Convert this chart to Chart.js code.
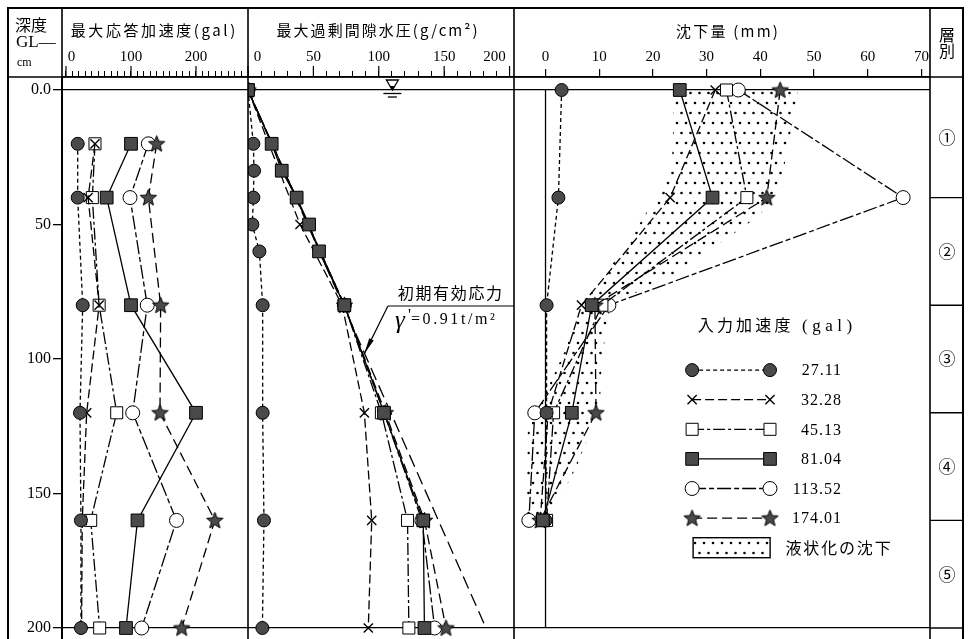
<!DOCTYPE html>
<html lang="ja"><head><meta charset="utf-8"><title>液状化実験</title>
<script src="https://cdn.jsdelivr.net/npm/chart.js@4.4.1/dist/chart.umd.min.js"></script>
<style>html,body{margin:0;padding:0;background:#fff;overflow:hidden}canvas{display:block}</style>
</head><body>
<canvas id="c" width="971" height="639"></canvas>
<script>
// ================= DATA =================
const seriesNames = ['27.11','32.28','45.13','81.04','113.52','174.01'];
const legendTitle = ['入力加速度','(gal)'];
const liqLabel = '液状化の沈下';
const panelTitles = ['最大応答加速度(gal)','最大過剰間隙水圧(g/cm²)','沈下量 (mm)'];
const depthTicks = [0,50,100,150,200];
const accTickLabels = [0,100,200];
const pwpTickLabels = [0,50,100,150,200];
const setTickLabels = [0,10,20,30,40,50,60,70];
const layerLabels = ['①','②','③','④','⑤'];
const layerBounds = [40,80,120,160];

// panel 1: max response acceleration (gal) vs depth (cm)
const accDepth = [20,40,80,120,160,200];
const acc27  = [18,18,25.7,21.5,23,23];
const acc32  = [44.6,34,51,31.8,25,24];
const acc45  = [44.6,40.5,51,78,38,51.8];
const acc81  = [100,62.6,100,200,110,92.3];
const acc113 = [126.7,98.5,125,102.6,170,116.4];
const acc174 = [139.5,126.7,145.6,144.6,229,178];

// panel 2: max excess pore water pressure (g/cm2) vs depth
const pwpDepthFull = [0,20,30,40,50,60,80,120,160,200];
const pwp27  = [0,4.1,4.6,4.1,3.3,8.7,11.2,11.2,12.2,11];
const pwp81  = [0,18.1,25.8,37.2,46.7,54.3,73.7,104,134,134.9];
const pwpDepthCross = [0,50,80,120,160,200];
const pwp32  = [0,39.8,72,89,94.6,92];
const pwpDepthShort = [0,80,120,160,200];
const pwp45  = [0,73.7,102,122,123];
const pwp113 = [0,73.7,104,133,142.7];
const pwp174 = [0,73.7,105,135,151.4];
const stressDepth = [0,200];
const initialStress = [0,182];   // γ'=0.91 t/m3

// panel 3: settlement (mm) vs depth
const setDepth = [0,40,80,120,160];
const set27  = [3.0,2.4,0.2,0.2,0.0];
const set32  = [31.6,23.2,6.7,0.5,-1.0];
const set45  = [33.7,37.5,10.5,1.5,0.2];
const set81  = [25.0,31.1,8.6,4.9,-0.5];
const set113 = [35.9,66.6,11.8,-2.0,-3.1];
const set174 = [43.7,41.2,9.2,9.4,-1.0];

// liquefaction settlement envelope (dotted area)
const liqLeftDepth  = [0,30,58,80,97,127,156,161];
const liqLeftVal    = [24,23.5,15,6.7,3.6,-3.3,-3.5,-3];
const liqRightDepth = [0,12,30,42,50,68,80,100,118,140,160];
const liqRightVal   = [47,46,44.3,42.4,37.5,24.4,12,10.5,10.1,5.8,0.5];

// ================= STYLE HELPERS =================
const SERIF = "'Liberation Serif','DejaVu Serif',serif";
const CJK = "'Noto Sans CJK JP','Noto Sans',sans-serif";
const MARK = '#4a4a4a';

function makeStar(){
  const c=document.createElement('canvas'); c.width=19; c.height=19;
  const g=c.getContext('2d'); g.beginPath();
  for(let i=0;i<10;i++){const r=i%2?3.7:8.6; const a=-Math.PI/2+i*Math.PI/5; g.lineTo(9.5+r*Math.cos(a),10+r*Math.sin(a));}
  g.closePath(); g.fillStyle=MARK; g.fill(); g.strokeStyle='#000'; g.lineWidth=1; g.stroke();
  return c;
}
const starImg = makeStar();

const styles = [
  {ps:'circle',  r:6.5, fill:MARK,   dash:[4,3],        order:1},
  {ps:'crossRot',r:6.5, fill:'#000', dash:[9,4],        order:2, pbw:1.4},
  {ps:'rect',    r:8.5, fill:'#fff', dash:[12,3,3,3],   order:3},
  {ps:'rect',    r:9,   fill:MARK,   dash:[],           order:0},
  {ps:'circle',  r:7,   fill:'#fff', dash:[14,3,5,3],   order:4},
  {ps:starImg,   r:9,   fill:MARK,   dash:[10,5],       order:2}
];

function ds(si, vals, depths, axis){
  const st = styles[si];
  return {
    label: seriesNames[si]+'-'+axis,
    data: vals.map((v,i)=>({x:v, y:depths[i]})),
    xAxisID: axis, yAxisID:'y', showLine:true,
    borderColor:'#000', borderWidth:1.3, borderDash:st.dash,
    pointStyle:st.ps, pointRadius:st.r, pointHoverRadius:st.r,
    pointBackgroundColor:st.fill, pointBorderColor:'#000', pointBorderWidth:st.pbw||1,
    order:st.order, fill:false, tension:0
  };
}

const datasets = [
  ds(0,acc27,accDepth,'xA'), ds(1,acc32,accDepth,'xA'), ds(2,acc45,accDepth,'xA'),
  ds(3,acc81,accDepth,'xA'), ds(4,acc113,accDepth,'xA'), ds(5,acc174,accDepth,'xA'),
  ds(0,pwp27,pwpDepthFull,'xP'), ds(1,pwp32,pwpDepthCross,'xP'), ds(2,pwp45,pwpDepthShort,'xP'),
  ds(3,pwp81,pwpDepthFull,'xP'), ds(4,pwp113,pwpDepthShort,'xP'), ds(5,pwp174,pwpDepthShort,'xP'),
  ds(0,set27,setDepth,'xS'), ds(1,set32,setDepth,'xS'), ds(2,set45,setDepth,'xS'),
  ds(3,set81,setDepth,'xS'), ds(4,set113,setDepth,'xS'), ds(5,set174,setDepth,'xS'),
  {label:'initial effective stress', data: initialStress.map((v,i)=>({x:v,y:stressDepth[i]})),
   xAxisID:'xP', yAxisID:'y', showLine:true, borderColor:'#000', borderWidth:1.3, borderDash:[13,6],
   pointRadius:0, order:6}
];

function line(ctx,x1,y1,x2,y2){ctx.beginPath();ctx.moveTo(x1,y1);ctx.lineTo(x2,y2);ctx.stroke();}

function dotPattern(ctx){
  const c=document.createElement('canvas'); c.width=9; c.height=20;
  const g=c.getContext('2d'); g.fillStyle='#000';
  g.beginPath(); g.arc(2,3,1.3,0,Math.PI*2); g.fill();
  g.beginPath(); g.arc(6.5,13,1.3,0,Math.PI*2); g.fill();
  return ctx.createPattern(c,'repeat');
}

function drawMarker(ctx, st, x, y){
  ctx.save(); ctx.setLineDash([]); ctx.strokeStyle='#000'; ctx.lineWidth=st.pbw||1; ctx.fillStyle=st.fill;
  if(st.ps==='circle'){ctx.beginPath();ctx.arc(x,y,st.r,0,Math.PI*2);ctx.fill();ctx.stroke();}
  else if(st.ps==='rect'){const s=st.r*Math.SQRT1_2;ctx.beginPath();ctx.rect(x-s,y-s,2*s,2*s);ctx.fill();ctx.stroke();}
  else if(st.ps==='crossRot'){const s=st.r*Math.SQRT1_2;line(ctx,x-s,y-s,x+s,y+s);line(ctx,x-s,y+s,x+s,y-s);}
  else {ctx.drawImage(st.ps,x-st.ps.width/2,y-st.ps.height/2);}
  ctx.restore();
}

function spacedText(ctx, text, cx, cy, targetW, font){
  ctx.font = font; ctx.letterSpacing='0px';
  const w = ctx.measureText(text).width;
  const n = [...text].length;
  const sp = Math.max(0,(targetW-w)/n);
  ctx.letterSpacing = sp.toFixed(2)+'px';
  ctx.textAlign='left'; ctx.textBaseline='middle';
  ctx.fillText(text, cx - (w+sp*(n-1))/2, cy);
  ctx.letterSpacing='0px';
}

const deco = {
  id:'deco',
  beforeDatasetsDraw(chart){
    const {ctx, chartArea:ca} = chart; const S=chart.scales;
    ctx.save();
    ctx.beginPath(); ctx.rect(ca.left,ca.top,ca.right-ca.left,ca.bottom-ca.top); ctx.clip();
    ctx.beginPath();
    liqLeftVal.forEach((v,i)=>{const px=S.xS.getPixelForValue(v), py=S.y.getPixelForValue(liqLeftDepth[i]); i?ctx.lineTo(px,py):ctx.moveTo(px,py);});
    for(let i=liqRightVal.length-1;i>=0;i--) ctx.lineTo(S.xS.getPixelForValue(liqRightVal[i]), S.y.getPixelForValue(liqRightDepth[i]));
    ctx.closePath(); ctx.fillStyle=dotPattern(ctx); ctx.fill();
    // zero line of settlement panel
    ctx.strokeStyle='#000'; ctx.lineWidth=1.3;
    line(ctx, S.xS.getPixelForValue(0), S.y.getPixelForValue(0), S.xS.getPixelForValue(0), S.y.getPixelForValue(200));
    ctx.restore();
  },
  afterDraw(chart){
    const {ctx, chartArea:ca} = chart; const S=chart.scales;
    const L=8, T=8, R=963, B=chart.height, H=ca.top;
    ctx.save(); ctx.strokeStyle='#000'; ctx.fillStyle='#000';
    // frame (open at the bottom, verticals run off the page)
    ctx.lineWidth=2; line(ctx,L-1,T,R+1,T);
    [L,R].forEach(x=>line(ctx,x,T,x,B));
    ctx.lineWidth=1.6; line(ctx,L,H,R,H);
    [ca.left, S.xA.right, S.xP.right, ca.right].forEach(x=>line(ctx,x,T,x,B));
    ctx.lineWidth=1.4;
    layerBounds.forEach(d=>{const yy=S.y.getPixelForValue(d); line(ctx,ca.right,yy,R,yy);});
    const y200=S.y.getPixelForValue(200); ctx.lineWidth=1.3; line(ctx,ca.right,y200,R,y200);
    // major tick extensions
    ctx.lineWidth=1.2;
    accTickLabels.forEach(v=>{const x=S.xA.getPixelForValue(v); line(ctx,x,H-11,x,H);});
    pwpTickLabels.forEach(v=>{const x=S.xP.getPixelForValue(v); line(ctx,x,H-11,x,H);});
    // header texts
    spacedText(ctx, panelTitles[0], 153, 30, 167, `15px ${CJK}`);
    spacedText(ctx, panelTitles[1], 377, 30, 203, `15px ${CJK}`);
    spacedText(ctx, panelTitles[2], 727, 31, 104, `15px ${CJK}`);
    ctx.textAlign='left'; ctx.textBaseline='middle';
    ctx.font=`16px ${CJK}`; ctx.fillText('深度',15,25);
    ctx.font=`17px ${SERIF}`; ctx.fillText('GL—',16,43);
    ctx.font=`12px ${SERIF}`; ctx.fillText('cm',17,63);
    ctx.textAlign='center';
    ctx.font=`16px ${CJK}`; ctx.fillText('層',947,35); ctx.fillText('別',947,51);
    const bnds=[S.y.getPixelForValue(S.y.min)].concat(layerBounds.map(d=>S.y.getPixelForValue(d)),[y200]);
    ctx.font=`17px ${CJK}`;
    layerLabels.forEach((t,i)=>ctx.fillText(t,947,(bnds[i]+bnds[i+1])/2));
    // water table symbol
    const wx=S.xP.getPixelForValue(110.4), wy=S.y.getPixelForValue(0);
    ctx.lineWidth=1.3;
    ctx.beginPath(); ctx.moveTo(wx-6,wy-10); ctx.lineTo(wx+6,wy-10); ctx.lineTo(wx,wy); ctx.closePath(); ctx.stroke();
    ctx.beginPath(); ctx.moveTo(wx-3,wy-4); ctx.lineTo(wx+3,wy-4); ctx.lineTo(wx,wy); ctx.closePath(); ctx.fill();
    line(ctx,wx-9,wy+3.5,wx+9,wy+3.5); line(ctx,wx-4.5,wy+7,wx+4.5,wy+7);
    // annotation: initial effective stress
    const ax=S.xP.getPixelForValue(107), ay=S.y.getPixelForValue(80.3);
    const tx=S.xP.getPixelForValue(89), ty=S.y.getPixelForValue(98);
    ctx.lineWidth=1.2; line(ctx,ax,ay,S.xP.right,ay); line(ctx,ax,ay,tx,ty);
    const ang=Math.atan2(ty-ay,tx-ax);
    ctx.beginPath(); ctx.moveTo(tx,ty);
    ctx.lineTo(tx-16*Math.cos(ang)+2.5*Math.sin(ang), ty-16*Math.sin(ang)-2.5*Math.cos(ang));
    ctx.lineTo(tx-16*Math.cos(ang)-2.5*Math.sin(ang), ty-16*Math.sin(ang)+2.5*Math.cos(ang));
    ctx.closePath(); ctx.fill();
    spacedText(ctx,'初期有効応力', ax+62, ay-13, 106, `16px ${CJK}`);
    ctx.textAlign='left'; ctx.textBaseline='middle';
    ctx.font=`italic 25px ${SERIF}`; ctx.fillText('γ',ax+7,ay+15);
    ctx.font=`17px ${SERIF}`; ctx.fillText("'",ax+20,ay+10);
    ctx.font=`16px ${SERIF}`; ctx.letterSpacing='2.6px'; ctx.fillText('=0.91t/m²',ax+23,ay+14); ctx.letterSpacing='0px';
    // legend
    const lx=S.xS.getPixelForValue(27.3), rx=S.xS.getPixelForValue(41.8), ly=S.y.getPixelForValue(87.4);
    spacedText(ctx, legendTitle[0], lx+52, ly, 96, `16px ${CJK}`);
    ctx.font=`17px ${SERIF}`; ctx.textAlign='left'; ctx.letterSpacing='4.5px';
    ctx.fillText(legendTitle[1], lx+110, ly+1); ctx.letterSpacing='0px';
    styles.forEach((st,i)=>{
      const yy=ly+45+i*29.6;
      ctx.save(); ctx.lineWidth=1.3; ctx.setLineDash(st.dash); line(ctx,lx,yy,rx,yy); ctx.restore();
      drawMarker(ctx,st,lx,yy); drawMarker(ctx,st,rx,yy);
      ctx.font=`16px ${SERIF}`; ctx.textAlign='right'; ctx.letterSpacing='1px';
      ctx.fillText(seriesNames[i], lx+150, yy+1); ctx.letterSpacing='0px';
    });
    const py=ly+45+6*29.6-10;
    ctx.fillStyle=dotPattern(ctx); ctx.fillRect(lx+1,py,77,20);
    ctx.lineWidth=1.4; ctx.strokeRect(lx+1,py,77,20);
    ctx.fillStyle='#000';
    spacedText(ctx, liqLabel, lx+146, py+10, 107, `16px ${CJK}`);
    ctx.restore();
  }
};

function minorTicks(lo,hi,step){const a=[];for(let v=lo;v<=hi+1e-9;v+=step)a.push({value:v});return a;}
const tickFont={family:"'Liberation Serif','DejaVu Serif',serif", size:15};
function noPad(s){s.paddingTop=0;s.paddingBottom=0;s.paddingLeft=0;s.paddingRight=0;}

// NOTE: top axes in one stack are laid out in reverse declaration order,
// so the settlement axis is declared first and the acceleration axis last.
new Chart(document.getElementById('c'), {
  type:'scatter',
  data:{datasets},
  plugins:[deco],
  options:{
    responsive:false, animation:false, devicePixelRatio:1,
    layout:{autoPadding:false, padding:{left:8,right:41,top:8,bottom:0}},
    plugins:{legend:{display:false}, tooltip:{enabled:false}},
    events:[],
    scales:{
      y:{type:'linear', position:'left', reverse:true, min:-4.833, max:204.09,
         afterFit(s){s.width=54; noPad(s);},
         afterBuildTicks(s){s.ticks=depthTicks.map(v=>({value:v}));},
         ticks:{callback:v=>v===0?'0.0':String(v), font:{family:"'Liberation Serif','DejaVu Serif',serif", size:16}, color:'#000', padding:2},
         grid:{color:c=>(c.tick&&(c.tick.value===0||c.tick.value===200))?'#000':'rgba(0,0,0,0)', tickColor:'#000', tickLength:9, lineWidth:1.3},
         border:{display:true,color:'#000',width:2}},
      xS:{type:'linear', position:'top', stack:'hdr', stackWeight:416, min:-5.87, max:71.6,
         afterFit(s){s.height=69; noPad(s);},
         afterBuildTicks(s){s.ticks=setTickLabels.map(v=>({value:v}));},
         ticks:{autoSkip:false, maxRotation:0, font:tickFont, color:'#000', padding:3},
         grid:{drawOnChartArea:false, tickLength:8, tickColor:'#000', lineWidth:1.2},
         border:{color:'#000',width:1.6}},
      xP:{type:'linear', position:'top', stack:'hdr', stackWeight:266, min:0, max:203.4,
         afterFit(s){s.height=69; noPad(s);},
         afterBuildTicks(s){s.ticks=minorTicks(0,200,10);},
         ticks:{autoSkip:false, maxRotation:0,
           callback:v=>!pwpTickLabels.includes(v)?'':(v===0?'\u2002\u2002 0':(v===200?'200\u2002\u2002\u2002\u2002':String(v))),
           font:tickFont, color:'#000', padding:5},
         grid:{drawOnChartArea:false, tickLength:6, tickColor:'#000', lineWidth:1},
         border:{color:'#000',width:1.6}},
      xA:{type:'linear', position:'top', stack:'hdr', stackWeight:186, min:-6.15, max:280,
         afterFit(s){s.height=69; noPad(s);},
         afterBuildTicks(s){s.ticks=minorTicks(0,270,10);},
         ticks:{autoSkip:false, maxRotation:0, callback:v=>!accTickLabels.includes(v)?'':(v===0?'\u2002 0':String(v)), font:tickFont, color:'#000', padding:5},
         grid:{drawOnChartArea:false, tickLength:6, tickColor:'#000', lineWidth:1},
         border:{color:'#000',width:1.6}}
    }
  }
});
</script>
</body></html>
